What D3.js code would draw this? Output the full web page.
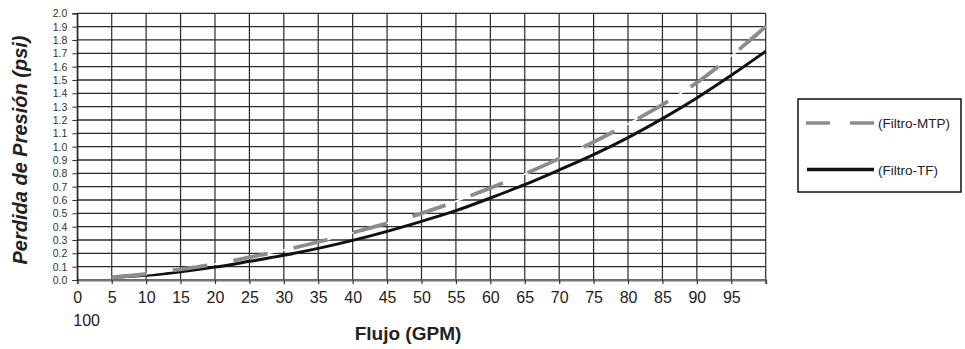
<!DOCTYPE html>
<html><head><meta charset="utf-8">
<script src="https://cdn.jsdelivr.net/npm/d3@7"></script>
<style>
html,body{margin:0;padding:0;background:#fff;}
svg{display:block;font-family:"Liberation Sans",Arial,sans-serif;}
</style></head>
<body><svg id="c" width="965" height="349"></svg>
<script>
const flujo = [5,10,15,20,25,30,35,40,45,50,55,60,65,70,75,80,85,90,95,100];
const filtroMTP = [0.02,0.045,0.08,0.12,0.17,0.225,0.285,0.355,0.425,0.50,0.59,0.69,0.795,0.91,1.035,1.17,1.315,1.48,1.68,1.90];
const filtroTF = [0.02,0.035,0.062,0.097,0.14,0.185,0.237,0.297,0.365,0.44,0.52,0.615,0.715,0.825,0.94,1.068,1.21,1.365,1.535,1.715];
const xTicks = [0,5,10,15,20,25,30,35,40,45,50,55,60,65,70,75,80,85,90,95,100];
const xTickLabels = ["0","5","10","15","20","25","30","35","40","45","50","55","60","65","70","75","80","85","90","95","100"];
const yTicks = [0,0.1,0.2,0.3,0.4,0.5,0.6,0.7,0.8,0.9,1.0,1.1,1.2,1.3,1.4,1.5,1.6,1.7,1.8,1.9,2.0];
const seriesNames = ["(Filtro-MTP)","(Filtro-TF)"];

const svg = d3.select("#c");
const L=77.3, R=765.7, T=13.3, B=280;
const x = d3.scaleLinear().domain([0,100]).range([L,R]);
const y = d3.scaleLinear().domain([0,2]).range([B,T]);

// grid
const g = svg.append("g");
g.selectAll("line.h").data(yTicks).join("line")
  .attr("x1",L).attr("x2",R).attr("y1",d=>y(d)).attr("y2",d=>y(d))
  .attr("stroke","#2a2a2a").attr("stroke-width",1.3);
g.selectAll("line.v").data(xTicks).join("line")
  .attr("y1",T).attr("y2",B).attr("x1",d=>x(d)).attr("x2",d=>x(d))
  .attr("stroke","#2a2a2a").attr("stroke-width",1.2);

// x axis
const xa = svg.append("g").attr("transform",`translate(0,${B})`)
  .call(d3.axisBottom(x).tickValues(xTicks).tickSize(4).tickPadding(8)
    .tickFormat((d,i)=> d===100 ? "" : xTickLabels[i]));
xa.select(".domain").attr("stroke","#777").attr("stroke-width",2);
xa.selectAll(".tick line").attr("stroke","#333").attr("stroke-width",1.2);
xa.selectAll(".tick text").attr("font-size",16).attr("fill","#222").attr("font-family","Liberation Sans, Arial, sans-serif");
svg.append("text").attr("x",x(0)-4).attr("y",326).attr("font-size",16).attr("fill","#222")
  .text(xTickLabels[xTickLabels.length-1]);

// y axis
const ya = svg.append("g").attr("transform",`translate(${L},0)`)
  .call(d3.axisLeft(y).tickValues(yTicks).tickSize(5).tickPadding(5).tickFormat(d3.format(".1f")));
ya.select(".domain").attr("stroke","#222").attr("stroke-width",1.2);
ya.selectAll(".tick line").attr("stroke","#333");
ya.selectAll(".tick text").attr("font-size",10.5).attr("fill","#333").attr("font-family","Liberation Sans, Arial, sans-serif");

// titles
svg.append("text").attr("x",408).attr("y",340).attr("text-anchor","middle")
  .attr("font-size",19).attr("font-weight","bold").attr("fill","#222").text("Flujo (GPM)");
svg.append("text").attr("transform",`translate(27,150) rotate(-90)`).attr("text-anchor","middle")
  .attr("font-size",20).attr("font-weight","bold").attr("font-style","italic").attr("fill","#222")
  .text("Perdida de Presión (psi)");

// lines
const line = d3.line().x(d=>x(d[0])).y(d=>y(d[1])).curve(d3.curveCatmullRom.alpha(0.5));
const tfData = flujo.map((f,i)=>[f,filtroTF[i]]);
const mtpData = flujo.map((f,i)=>[f,filtroMTP[i]]);
svg.append("path").attr("d",line(tfData)).attr("fill","none").attr("stroke","#111").attr("stroke-width",3);
svg.append("path").attr("d",line(mtpData)).attr("fill","none").attr("stroke","#fff").attr("stroke-width",1.6);
const mtpPath = svg.append("path").attr("d",line(mtpData)).attr("fill","none").attr("stroke","#8c8c8c").attr("stroke-width",3.8);
// fit dash pattern so the line starts and ends with a dash
const len = mtpPath.node().getTotalLength();
const dashR = 34, gapR = 26;
const n = Math.round((len - dashR) / (dashR + gapR));
const p = len / (n + dashR/(dashR+gapR));
const dash = p * dashR/(dashR+gapR), gap = p - dash;
mtpPath.attr("stroke-dasharray", `${dash},${gap}`);

// legend
const lg = svg.append("g");
lg.append("rect").attr("x",798).attr("y",99).attr("width",163).attr("height",93)
  .attr("fill","#fff").attr("stroke","#111").attr("stroke-width",1.5);
lg.append("line").attr("x1",806).attr("x2",874).attr("y1",123).attr("y2",123)
  .attr("stroke","#8c8c8c").attr("stroke-width",3.5).attr("stroke-dasharray","24,20");
lg.append("line").attr("x1",807).attr("x2",874).attr("y1",169.5).attr("y2",169.5)
  .attr("stroke","#111").attr("stroke-width",3.6);
lg.append("text").attr("x",878).attr("y",128).attr("font-size",13.5).attr("fill","#222").text(seriesNames[0]);
lg.append("text").attr("x",878).attr("y",174.5).attr("font-size",13.5).attr("fill","#222").text(seriesNames[1]);
</script></body></html>
